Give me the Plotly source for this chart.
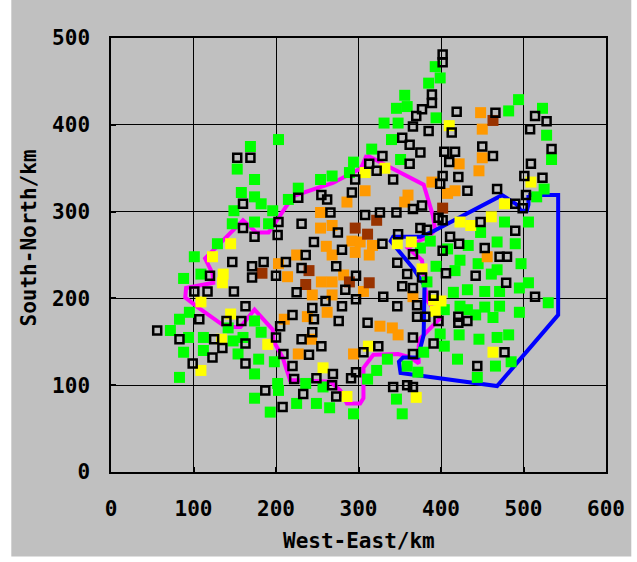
import plotly.graph_objects as go

# ---- station positions (km) by class ----
green_x = [203, 169, 153, 174, 158, 174, 182, 149, 196, 215, 147, 174, 191, 129, 101, 88, 109,
           254, 268, 289, 294, 227, 385, 356, 346, 359, 331, 348, 340, 316, 351, 393, 399, 394,
           494, 482, 523, 528, 534, 525, 516, 506, 477, 448, 468, 490, 433, 387, 375, 408, 423,
           394, 445, 468, 497, 461, 417, 383, 415, 432, 453, 471, 495, 506, 530, 404, 423, 453,
           471, 495, 463, 442, 432, 399, 422, 446, 468, 482, 404, 420, 466, 485, 444, 379, 359,
           372, 335, 322, 311, 346, 353, 294, 95, 83, 72, 94, 112, 88, 112, 83, 142, 148, 160,
           154, 174, 182, 179, 198, 174, 202, 203, 174, 193, 225, 236, 249, 257, 265]
green_y = [383, 375, 349, 337, 322, 317, 309, 301, 301, 314, 286, 288, 286, 263, 248, 223, 228,
           337, 341, 345, 357, 327, 448, 434, 419, 421, 402, 402, 383, 372, 360, 467, 454, 408,
           429, 416, 419, 388, 360, 326, 317, 288, 288, 276, 265, 263, 261, 266, 258, 257, 244,
           237, 240, 233, 240, 228, 232, 219, 207, 210, 208, 208, 212, 218, 195, 187, 191, 190,
           191, 184, 178, 181, 187, 159, 158, 153, 155, 158, 145, 130, 122, 127, 109, 138, 122,
           115, 130, 117, 107, 84, 67, 67, 184, 176, 163, 155, 155, 138, 140, 109, 166, 151, 155,
           136, 174, 161, 130, 127, 113, 102, 94, 85, 69, 79, 102, 79, 98, 74]

yellow_x = [145, 123, 136, 135, 109, 145, 134, 109, 190, 257, 286, 308, 332, 347, 364, 377, 410,
            509, 477, 461, 423, 436, 312, 370, 391, 400, 393, 463]
yellow_y = [263, 248, 228, 218, 196, 182, 153, 117, 147, 120, 87, 345, 350, 263, 265, 234, 399,
            334, 309, 294, 288, 284, 145, 86, 198, 197, 185, 138]

orange_x = [203, 214, 225, 261, 268, 255, 268, 282, 244, 268, 262, 238, 210, 243, 227, 294, 306,
            326, 341, 348, 366, 286, 254, 254, 268, 292, 296, 308, 360, 356, 302, 317, 313, 448,
            450, 450, 446, 422, 389, 408, 417, 456]
orange_y = [240, 225, 250, 260, 250, 219, 219, 227, 204, 204, 184, 179, 176, 153, 136, 136, 208,
            168, 166, 158, 202, 311, 299, 281, 284, 266, 253, 324, 319, 311, 265, 261, 250, 414,
            395, 362, 347, 355, 334, 321, 324, 248]

brown_x = [183, 240, 236, 289, 313, 296, 311, 322, 463, 402]
brown_y = [229, 232, 216, 219, 218, 281, 274, 290, 405, 304]

black_x = [153, 169, 160, 160, 174, 203, 202, 147, 171, 185, 212, 120, 171, 200, 255, 262, 296,
           292, 266, 231, 275, 246, 280, 236, 227, 389, 389, 377, 370, 366, 385, 353, 362, 375,
           329, 313, 322, 342, 362, 402, 402, 419, 466, 413, 404, 417, 410, 450, 463, 402, 421,
           399, 432, 468, 514, 528, 508, 534, 509, 501, 523, 503, 490, 499, 308, 326, 346, 366,
           377, 397, 402, 448, 490, 375, 383, 348, 329, 366, 402, 411, 422, 453, 471, 480, 347,
           359, 231, 273, 297, 377, 406, 442, 479, 353, 366, 284, 297, 225, 260, 280, 330, 347,
           371, 244, 220, 246, 276, 311, 371, 381, 205, 244, 231, 255, 209, 240, 366, 306, 324,
           366, 220, 269, 297, 291, 222, 249, 268, 273, 233, 208, 342, 359, 366, 391, 514, 391,
           397, 421, 421, 432, 477, 444, 56, 83, 99, 101, 117, 149, 163, 107, 140, 158, 125, 135,
           123, 163, 163, 200, 187]
black_y = [362, 362, 309, 281, 271, 288, 273, 242, 237, 242, 242, 226, 224, 226, 319, 314, 337,
           322, 299, 286, 276, 265, 256, 250, 316, 435, 425, 418, 410, 398, 393, 385, 377, 368,
           364, 355, 347, 337, 355, 481, 472, 415, 414, 391, 369, 369, 357, 375, 364, 341, 340,
           332, 324, 326, 410, 404, 395, 372, 355, 341, 339, 319, 309, 304, 296, 299, 299, 303,
           307, 293, 290, 288, 278, 281, 279, 274, 263, 251, 255, 271, 263, 258, 248, 248, 241,
           228, 235, 237, 226, 224, 229, 226, 218, 214, 212, 210, 199, 207, 197, 191, 202, 191,
           192, 189, 181, 176, 174, 172, 179, 179, 168, 161, 153, 145, 136, 135, 155, 138, 145,
           136, 122, 113, 115, 108, 107, 108, 100, 87, 90, 75, 98, 100, 98, 203, 202, 148,
           174, 179, 172, 174, 138, 122, 163, 153, 125, 208, 208, 208, 191, 176, 174, 174, 153, 143,
           132, 148, 125, 155, 94]

# ---- outlined regions (km) ----
pink_x = [310, 379, 390, 393, 385, 375, 360, 377, 379, 383, 399, 375, 373, 373, 363, 348, 318,
          306, 306, 302, 286, 278, 266, 217, 208, 197, 196, 174, 157, 139, 105, 90, 91, 124,
          123, 114, 160, 176, 191, 221, 269, 303, 310]
pink_y = [365, 331, 296, 279, 271, 267, 258, 244, 225, 198, 177, 154, 145, 125, 132, 136, 135,
          120, 85, 79, 79, 94, 104, 106, 132, 151, 164, 187, 167, 167, 190, 201, 212, 218,
          229, 246, 290, 276, 276, 318, 333, 350, 365]

blue_x = [506, 542, 542, 468, 351, 349, 354, 372, 379, 380, 366, 345, 339, 342, 375, 390, 474,
          492, 497, 504, 506, 506]
blue_y = [319, 319, 181, 99, 114, 127, 132, 132, 158, 215, 235, 258, 266, 271, 271, 277, 319,
          308, 301, 301, 308, 319]

FONT = "DejaVu Sans Mono"
GRAY = "#c0c0c0"

fig = go.Figure()

fig.add_trace(go.Scatter(x=pink_x, y=pink_y, mode="lines",
                         line=dict(color="#ff00ff", width=4), hoverinfo="skip"))
fig.add_trace(go.Scatter(x=blue_x, y=blue_y, mode="lines",
                         line=dict(color="#0000ff", width=4), hoverinfo="skip"))

def filled(xs, ys, color):
    return go.Scatter(x=xs, y=ys, mode="markers",
                      marker=dict(symbol="square", size=11, color=color,
                                  line=dict(width=0)))

fig.add_trace(filled(green_x, green_y, "#00ff00"))
fig.add_trace(filled(yellow_x, yellow_y, "#ffff00"))
fig.add_trace(filled(orange_x, orange_y, "#ff9900"))
fig.add_trace(filled(brown_x, brown_y, "#993300"))
fig.add_trace(go.Scatter(x=black_x, y=black_y, mode="markers",
                         marker=dict(symbol="square-open", size=8, color="#000000",
                                     line=dict(width=2.5, color="#000000"))))

axis_common = dict(
    showgrid=True, gridcolor="#000000", gridwidth=1,
    showline=True, linecolor="#000000", linewidth=1.5, mirror=True,
    ticks="inside", ticklen=5, tickwidth=2, tickcolor="#000000",
    zeroline=False,
    tickfont=dict(family=FONT, size=21, color="#000000", weight="bold"),
)

fig.update_xaxes(range=[0, 600], tickvals=[0, 100, 200, 300, 400, 500, 600],
                 ticklabelstandoff=17, **axis_common)
fig.update_yaxes(range=[0, 500], tickvals=[0, 100, 200, 300, 400, 500],
                 ticklabelstandoff=15, **axis_common)

# gray panel behind the whole chart
fig.add_shape(type="rect", xref="paper", yref="paper",
              x0=-0.2014, x1=1.0511, y0=-0.1945, y1=1.088,
              fillcolor=GRAY, line=dict(width=0), layer="below")

fig.add_annotation(text="West-East/km", xref="paper", yref="paper",
                   x=0.5, y=-0.158, xanchor="center", yanchor="middle", showarrow=False,
                   font=dict(family=FONT, size=21, color="#000000", weight="bold"))
fig.add_annotation(text="South-North/km", xref="paper", yref="paper",
                   x=-0.166, y=0.54, xanchor="center", yanchor="middle", showarrow=False,
                   textangle=-90,
                   font=dict(family=FONT, size=21, color="#000000", weight="bold"))

fig.update_layout(
    width=637, height=562,
    margin=dict(l=111, r=31, t=38, b=90, pad=0),
    paper_bgcolor="#ffffff", plot_bgcolor=GRAY,
    showlegend=False,
)

fig.write_html("out.html")
